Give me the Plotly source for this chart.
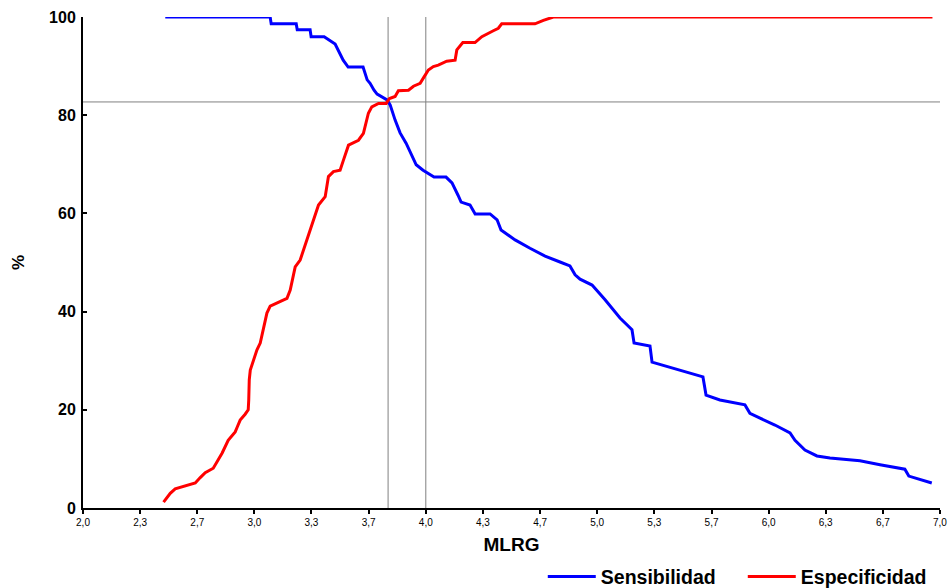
import plotly.graph_objects as go

# Sensibilidad (blue)
sens_x = [2.48, 3.092, 3.098, 3.244, 3.25, 3.325, 3.331, 3.407, 3.471, 3.518, 3.547, 3.634, 3.658,
          3.675, 3.698, 3.716, 3.774, 3.792, 3.821, 3.850, 3.885, 3.915, 3.944, 3.984, 4.048,
          4.118, 4.153, 4.188, 4.206, 4.258, 4.288, 4.375, 4.416, 4.439, 4.521, 4.608, 4.696,
          4.783, 4.841, 4.871, 4.900, 4.970, 5.046, 5.133, 5.203, 5.215, 5.308, 5.320, 5.483,
          5.617, 5.635, 5.716, 5.862, 5.891, 5.950, 6.037, 6.125, 6.154, 6.212, 6.282, 6.358,
          6.533, 6.650, 6.795, 6.818, 6.952]
sens_y = [100, 100, 98.6, 98.6, 97.4, 97.4, 96.0, 96.0, 94.5, 91.2, 89.8, 89.8, 87.2,
          86.5, 85.1, 84.3, 83.1, 82.1, 79.0, 76.4, 74.3, 71.9, 69.9, 68.8, 67.4,
          67.4, 66.2, 63.7, 62.3, 61.7, 59.9, 59.9, 58.7, 56.6, 54.6, 52.9, 51.3,
          50.1, 49.3, 47.5, 46.6, 45.4, 42.4, 38.7, 36.3, 33.6, 33.0, 29.7, 28.1,
          26.7, 23.0, 22.0, 21.0, 19.3, 18.3, 16.9, 15.3, 13.8, 11.8, 10.6, 10.2,
          9.6, 8.8, 7.9, 6.5, 5.1]

# Especificidad (red)
espe_x = [2.470, 2.509, 2.538, 2.626, 2.655, 2.684, 2.713, 2.760, 2.789, 2.812, 2.847, 2.888,
          2.900, 2.917, 2.946, 2.964, 2.967, 2.970, 2.976, 2.995, 3.015, 3.034, 3.053, 3.073,
          3.092, 3.131, 3.190, 3.209, 3.238, 3.267, 3.306, 3.345, 3.374, 3.413, 3.432, 3.461,
          3.500, 3.520, 3.549, 3.607, 3.636, 3.665, 3.685, 3.724, 3.769, 3.788, 3.821, 3.840,
          3.899, 3.928, 3.967, 3.990, 4.015, 4.044, 4.073, 4.122, 4.171, 4.181, 4.216, 4.287,
          4.327, 4.394, 4.423, 4.443, 4.637, 4.686, 4.744, 6.956]
espe_y = [1.2, 3.0, 3.9, 4.9, 5.1, 6.2, 7.2, 8.1, 9.8, 11.2, 13.8, 15.5,
          16.5, 17.9, 19.1, 20.0, 22.0, 26.1, 28.1, 30.1, 32.2, 33.6, 36.9, 39.7,
          41.1, 41.7, 42.7, 44.4, 49.1, 50.5, 54.6, 59.0, 61.7, 63.4, 67.5, 68.5,
          68.8, 70.9, 73.9, 74.9, 76.3, 80.4, 81.7, 82.4, 82.4, 83.4, 83.8, 85.0,
          85.1, 85.9, 86.5, 87.8, 89.2, 89.9, 90.2, 91.0, 91.2, 93.3, 94.8, 94.8,
          96.0, 97.2, 97.7, 98.6, 98.6, 99.3, 100, 100]

x_tickvals = [2.0, 2.333, 2.667, 3.0, 3.333, 3.667, 4.0, 4.333, 4.667, 5.0,
              5.333, 5.667, 6.0, 6.333, 6.667, 6.9999]
x_ticktext = ["2,0", "2,3", "2,7", "3,0", "3,3", "3,7", "4,0", "4,3", "4,7", "5,0",
              "5,3", "5,7", "6,0", "6,3", "6,7", "7,0"]
y_tickvals = [0, 20, 40, 60, 80, 100]

cut_x = [3.78, 4.0]
cut_y = 82.7

FONT = "Liberation Sans"

fig = go.Figure()
fig.add_trace(go.Scatter(x=sens_x, y=sens_y, mode="lines", name="Sensibilidad",
                         line=dict(color="#0000FF", width=3)))
fig.add_trace(go.Scatter(x=espe_x, y=espe_y, mode="lines", name="Especificidad",
                         line=dict(color="#FF0000", width=3)))

for cx in cut_x:
    fig.add_shape(type="line", xref="x", yref="y", x0=cx, x1=cx, y0=0, y1=100,
                  line=dict(color="#808080", width=1), layer="below")
fig.add_shape(type="line", xref="x", yref="y", x0=2, x1=7, y0=cut_y, y1=cut_y,
              line=dict(color="#808080", width=1), layer="below")

fig.update_layout(
    width=948, height=588,
    margin=dict(l=83, r=8, t=17, b=80, autoexpand=False),
    paper_bgcolor="white", plot_bgcolor="white",
    font=dict(family=FONT, color="black"),
    showlegend=True,
    legend=dict(orientation="h", x=0.5365, y=-0.14, xanchor="left", yanchor="middle",
                font=dict(family=FONT, size=19.5, weight="bold", color="black"),
                itemwidth=48, entrywidth=137, entrywidthmode="pixels",
                tracegroupgap=0, bgcolor="rgba(0,0,0,0)"),
    xaxis=dict(range=[2, 7], tickvals=x_tickvals, ticktext=x_ticktext, automargin=False,
               showgrid=False, zeroline=False, showline=True, linecolor="black", linewidth=2,
               ticks="outside", ticklen=4, tickwidth=2, tickcolor="black",
               tickfont=dict(family=FONT, size=10, color="black"),
               title=dict(text="MLRG", font=dict(family=FONT, size=19, weight="bold"), standoff=11)),
    yaxis=dict(range=[0, 100], tickvals=y_tickvals, automargin=False,
               showgrid=False, zeroline=False, showline=True, linecolor="black", linewidth=2,
               ticks="inside", ticklen=4, tickwidth=2, tickcolor="black", ticklabelstandoff=2,
               tickfont=dict(family=FONT, size=16, weight="bold", color="black"),
               title=dict(text="%", font=dict(family=FONT, size=17, weight="bold"), standoff=20)),
)

# remove the default page margin so the 948x588 figure fills the window exactly
fig.write_html("out.html", config={"displayModeBar": False},
               post_script="document.body.style.margin='0';")
